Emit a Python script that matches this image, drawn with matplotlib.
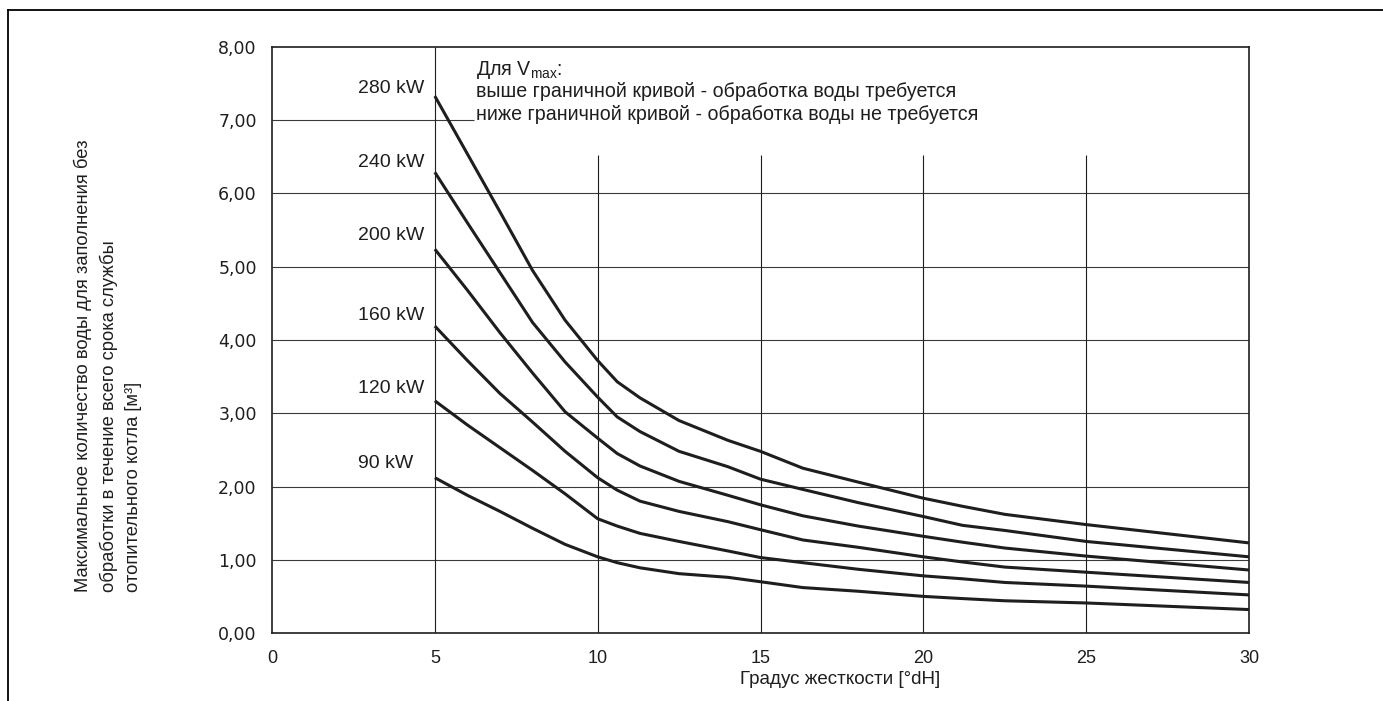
import matplotlib
matplotlib.use("Agg")
import matplotlib.pyplot as plt
from matplotlib.lines import Line2D
from matplotlib.ticker import FuncFormatter, FixedLocator
from matplotlib import font_manager

# ---- data ----
hardness = [5, 6, 7, 8, 9, 10, 10.6, 11.3, 12.5, 14, 15, 16.3, 18, 20, 21.2, 22.5, 25, 30]
v_280 = [7.33, 6.54, 5.75, 4.95, 4.27, 3.72, 3.43, 3.21, 2.90, 2.63, 2.48, 2.25, 2.06, 1.84, 1.73, 1.62, 1.48, 1.23]
v_240 = [6.29, 5.60, 4.92, 4.24, 3.70, 3.22, 2.95, 2.75, 2.48, 2.27, 2.10, 1.96, 1.78, 1.59, 1.47, 1.40, 1.25, 1.04]
v_200 = [5.24, 4.68, 4.10, 3.55, 3.02, 2.66, 2.45, 2.28, 2.07, 1.88, 1.75, 1.60, 1.46, 1.32, 1.24, 1.16, 1.05, 0.86]
v_160 = [4.19, 3.72, 3.27, 2.88, 2.48, 2.12, 1.95, 1.80, 1.66, 1.52, 1.41, 1.27, 1.17, 1.04, 0.97, 0.90, 0.83, 0.69]
v_120 = [3.17, 2.84, 2.53, 2.22, 1.90, 1.56, 1.46, 1.36, 1.25, 1.12, 1.03, 0.96, 0.87, 0.78, 0.74, 0.69, 0.64, 0.52]
v_90 = [2.12, 1.88, 1.66, 1.43, 1.21, 1.04, 0.96, 0.89, 0.81, 0.76, 0.70, 0.62, 0.57, 0.50, 0.47, 0.44, 0.41, 0.32]
series = [v_280, v_240, v_200, v_160, v_120, v_90]
labels = ["280 kW", "240 kW", "200 kW", "160 kW", "120 kW", "90 kW"]
label_y = [7.44, 6.43, 5.42, 4.33, 3.34, 2.31]
x_ticks = [0, 5, 10, 15, 20, 25, 30]
y_ticks = [0, 1, 2, 3, 4, 5, 6, 7, 8]
note_lines = ["Для V$_{max}$:",
              "выше граничной кривой - обработка воды требуется",
              "ниже граничной кривой - обработка воды не требуется"]
x_label = "Градус жесткости [°dH]"
y_label = ("Максимальное количество воды для заполнения без\n"
           "обработки в течение всего срока службы\n"
           "отопительного котла [м³]")

# ---- fonts ----
names = {f.name for f in font_manager.fontManager.ttflist}
main_font = "Liberation Sans" if "Liberation Sans" in names else "DejaVu Sans"
narrow_font = "Liberation Sans Narrow" if "Liberation Sans Narrow" in names else main_font
plt.rcParams["font.family"] = [main_font, "DejaVu Sans"]
plt.rcParams["mathtext.default"] = "regular"

INK = "#1e1e1e"
W, H = 1383, 701
fig = plt.figure(figsize=(W / 100, H / 100), dpi=100)
ax = fig.add_axes([272 / W, (H - 633) / H, (1249 - 272) / W, (633 - 47) / H])

ax.set_xlim(0, 30)
ax.set_ylim(0, 8)

# grid (partial, as in the reference)
ax.hlines([1, 2, 3, 4, 5, 6], 0, 30, color="#3a3a3a", lw=0.8, zorder=1)
ax.hlines([7], 0, 6.2, color="#3a3a3a", lw=0.8, zorder=1)
ax.vlines([5], 0, 8, color="#1e1e1e", lw=0.8, zorder=1)
ax.vlines([10, 15, 20, 25], 0, 6.53, color="#1e1e1e", lw=0.8, zorder=1)

for vals in series:
    ax.plot(hardness, vals, color=INK, lw=2.2, solid_joinstyle="round",
            solid_capstyle="butt", zorder=3, clip_on=False)

for lab, yy in zip(labels, label_y):
    ax.text(2.65, yy, lab, ha="left", va="center", fontsize=14, color=INK)

note_y = [7.69, 7.39, 7.08]
for line, yy in zip(note_lines, note_y):
    ax.text(6.27, yy, line, ha="left", va="center", fontsize=14.1, color=INK)

for s in ax.spines.values():
    s.set_linewidth(1.2)
    s.set_color(INK)

ax.xaxis.set_major_locator(FixedLocator(x_ticks))
ax.yaxis.set_major_locator(FixedLocator(y_ticks))
ax.yaxis.set_major_formatter(FuncFormatter(lambda v, p: f"{v:.2f}".replace(".", ",")))
ax.tick_params(axis="both", length=0, colors=INK)
ax.tick_params(axis="y", pad=11)
ax.tick_params(axis="x", pad=12)
for t in ax.get_yticklabels():
    t.set_fontfamily("DejaVu Sans")
    t.set_fontsize(12.5)
for t in ax.get_xticklabels():
    t.set_fontsize(13)

fig.text(840 / W, 1 - 680 / H, x_label, ha="center", va="center",
         fontsize=13.5, color=INK)
fig.text(108 / W, 1 - 592 / H, y_label, rotation=90, ha="center", va="bottom",
         multialignment="left", fontsize=13.2, linespacing=1.55, color=INK,
         family=[narrow_font, "DejaVu Sans"])

# cropped frame around the figure
fig.add_artist(Line2D([8 / W, 8 / W], [0, 1 - 10 / H], transform=fig.transFigure,
                      color="black", lw=1.3))
fig.add_artist(Line2D([8 / W, 1], [1 - 10 / H, 1 - 10 / H], transform=fig.transFigure,
                      color="black", lw=1.3))

fig.savefig("out.png", dpi=100)
